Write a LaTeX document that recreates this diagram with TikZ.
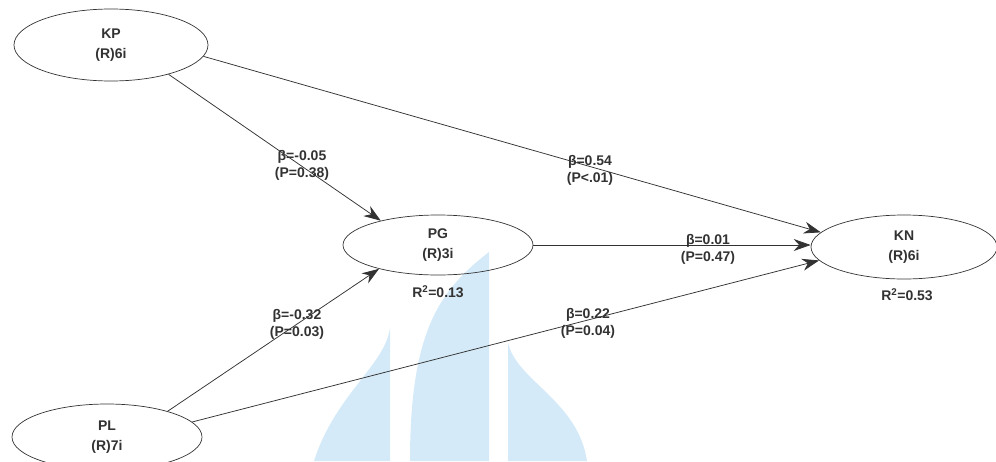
\documentclass[tikz,border=0pt]{standalone}
\usepackage{fontspec}
\setmainfont{Liberation Sans}
\usetikzlibrary{shapes.geometric,arrows.meta}
\definecolor{pathgray}{RGB}{50,50,50}
\definecolor{wmblue}{RGB}{212,234,248}

\tikzset{
  latent/.style={ellipse, draw=pathgray, line width=0.7pt, inner sep=0pt,
    font=\bfseries\fontsize{14}{20}\selectfont, text=pathgray, align=center},
  link/.style={draw=pathgray, line width=0.75pt, -{Stealth[length=17pt,width=12pt]}},
  coef/.style={font=\bfseries\fontsize{14}{17}\selectfont, text=pathgray, align=center, inner sep=0pt},
  rsq/.style={font=\bfseries\fontsize{14}{14}\selectfont, text=pathgray, inner sep=0pt},
}

\begin{document}
\begin{tikzpicture}[x=1pt,y=-1pt]
\useasboundingbox (0,0) rectangle (996,461);

% watermark
\fill[wmblue] (314,461) .. controls (335,395) and (385,365) .. (390,328) -- (390,461) -- cycle;
\fill[wmblue] (410,461) .. controls (410,330) and (440,290) .. (489,252) -- (489,461) -- cycle;
\fill[wmblue] (508,342) .. controls (515,380) and (578,400) .. (587,461) -- (508,461) -- cycle;

  \node[latent, minimum width=194, minimum height=72] (kp) at (111,45) {KP\\(R)6i}; %
  \node[latent, minimum width=190, minimum height=60] (pg) at (438,245) {PG\\(R)3i}; %
  \node[latent, minimum width=186, minimum height=64] (kn) at (904,247) {KN\\(R)6i}; %
  \node[latent, minimum width=190, minimum height=66] (pl) at (107,437) {PL\\(R)7i}; %

  \node[rsq] (pg-r2) at (438,292) {R\textsuperscript{2}=0.13}; %
  \node[rsq] (kn-r2) at (907,295) {R\textsuperscript{2}=0.53}; %

\draw[link] (kp.-27) -- (pg.157);
\draw[link] (kp.-7) -- (kn.170);
\draw[link] (pg.east) -- (pg.east -| kn.west);
\draw[link] (pl.23) -- (pg.-158);
\draw[link] (pl.10) -- (kn.-171);

\node[coef] (c1) at (302,165) {β=-0.05\\(P=0.38)};
\node[coef] (c2) at (590,170) {β=0.54\\(P<.01)};
\node[coef] (c3) at (708,249) {β=0.01\\(P=0.47)};
\node[coef] (c4) at (297,324) {β=-0.32\\(P=0.03)};
\node[coef] (c5) at (588,323) {β=0.22\\(P=0.04)};

\end{tikzpicture}
\end{document}
